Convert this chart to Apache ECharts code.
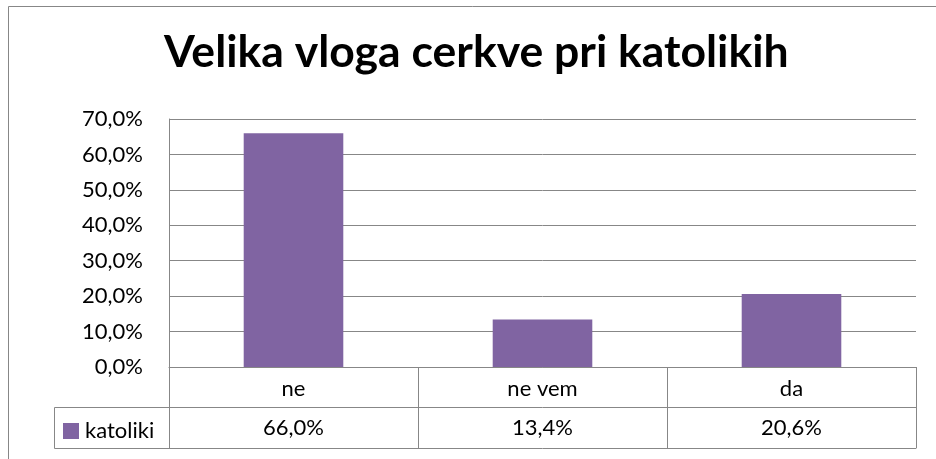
<!DOCTYPE html>
<html>
<head>
<meta charset="utf-8">
<title>Velika vloga cerkve pri katolikih</title>
<script src="https://cdn.jsdelivr.net/npm/echarts@6/dist/echarts.min.js"></script>
<style>
  html, body { margin: 0; padding: 0; background: #fff; }
  #main { width: 936px; height: 459px; }
</style>
</head>
<body>
<div id="main"></div>
<script>
var categories = ['ne', 'ne vem', 'da'];
var seriesName = 'katoliki';
var values = [66.0, 13.4, 20.6];
var yTicks = [0, 10, 20, 30, 40, 50, 60, 70];

var lineColor = '#878787';
var barColor = '#8064A2';
var font = 'Lato';

function pct(v) {
    return v.toFixed(1).replace('.', ',') + '%';
}

var myChart = echarts.init(document.getElementById('main'));
var option = {
    animation: false,
    title: {
        text: 'Velika vloga cerkve pri katolikih',
        left: 164,
        top: 30,
        padding: 0,
        textStyle: { fontFamily: font, fontWeight: 'bold', fontSize: 44.5, color: '#000' }
    },
    legend: {
        data: [seriesName],
        left: 58,
        top: 415,
        itemWidth: 16,
        itemHeight: 16,
        itemGap: 4,
        icon: 'rect',
        textStyle: { fontFamily: font, fontSize: 22, color: '#000', padding: [0, 0, 0, 1] }
    },
    grid: { left: 169, right: 20, top: 119, bottom: 92 },
    xAxis: [
        {
            type: 'category',
            data: categories,
            position: 'bottom',
            axisLine: { lineStyle: { color: lineColor, width: 1 } },
            axisTick: { show: true, length: 81, lineStyle: { color: lineColor } },
            axisLabel: { margin: 11, fontFamily: font, fontSize: 22, color: '#000' }
        },
        {
            type: 'category',
            data: values.map(pct),
            position: 'bottom',
            offset: 40,
            axisLine: { lineStyle: { color: lineColor, width: 1 } },
            axisTick: { show: false },
            axisLabel: { margin: 10, fontFamily: font, fontSize: 22, color: '#000' }
        },
        {
            type: 'category',
            data: categories,
            position: 'bottom',
            offset: 81,
            axisLine: { lineStyle: { color: lineColor, width: 1 } },
            axisTick: { show: false },
            axisLabel: { show: false }
        }
    ],
    yAxis: {
        type: 'value',
        min: yTicks[0],
        max: yTicks[yTicks.length - 1],
        interval: 10,
        axisLine: { show: true, lineStyle: { color: lineColor } },
        axisTick: { show: false },
        splitLine: { lineStyle: { color: lineColor } },
        axisLabel: {
            margin: 26,
            fontFamily: font,
            fontSize: 22,
            color: '#000',
            formatter: function (v) { return pct(v); }
        }
    },
    series: [
        {
            name: seriesName,
            type: 'bar',
            data: values,
            barWidth: '40%',
            itemStyle: { color: barColor }
        }
    ],
    graphic: [
        {
            // outer chart frame
            type: 'rect',
            shape: { x: 8.5, y: 6.5, width: 960, height: 480 },
            style: { fill: null, stroke: lineColor, lineWidth: 1 },
            silent: true
        },
        {
            // legend key cell of the data table
            type: 'rect',
            shape: { x: 54.5, y: 407.5, width: 115, height: 41 },
            style: { fill: null, stroke: lineColor, lineWidth: 1 },
            silent: true
        }
    ]
};
myChart.setOption(option);
</script>
</body>
</html>
